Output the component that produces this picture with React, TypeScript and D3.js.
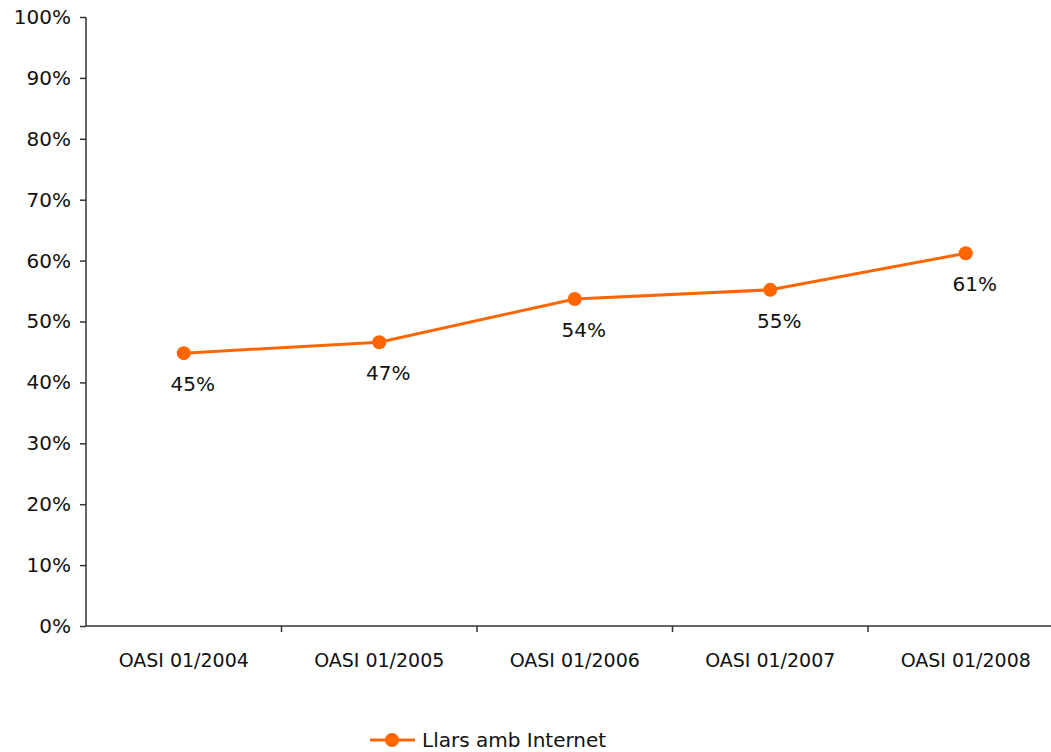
import React, { useEffect, useRef } from 'react';
import * as d3 from 'd3';

const categories = ['OASI 01/2004', 'OASI 01/2005', 'OASI 01/2006', 'OASI 01/2007', 'OASI 01/2008'];
const values = [44.8, 46.6, 53.7, 55.2, 61.2];
const valueLabels = ['45%', '47%', '54%', '55%', '61%'];
const yTicks = [0, 10, 20, 30, 40, 50, 60, 70, 80, 90, 100];
const seriesName = 'Llars amb Internet';

const App = () => {
  const chartRef = useRef(null);

  useEffect(() => {
    if (!chartRef.current) return;
    d3.select(chartRef.current).selectAll('*').remove();

    const width = 1051;
    const height = 752;
    const left = 86;
    const top = 17;
    const bottom = 626;
    const plotWidth = 977.5;
    const color = '#FF6600';
    const font = 'Tahoma, "DejaVu Sans", Verdana, sans-serif';

    const svg = d3.select(chartRef.current)
      .append('svg')
      .attr('width', width)
      .attr('height', height)
      .style('display', 'block')
      .style('background-color', 'white');

    const x = d3.scaleBand().domain(categories).range([left, left + plotWidth]);
    const y = d3.scaleLinear().domain([0, 100]).range([bottom, top]);

    // y axis
    const yAxis = svg.append('g')
      .attr('transform', `translate(${left},0)`)
      .call(d3.axisLeft(y).tickValues(yTicks).tickSize(6).tickFormat(d => `${d}%`));
    yAxis.select('.domain').attr('stroke', '#333').attr('stroke-width', 1.5).attr('d', `M0,${top}V${bottom}`);
    yAxis.selectAll('.tick line').attr('stroke', '#333').attr('stroke-width', 1.5);
    yAxis.selectAll('.tick text')
      .attr('x', -15)
      .style('font-family', font)
      .style('font-size', '20px')
      .style('fill', '#111');

    // x axis
    const xAxis = svg.append('g')
      .attr('transform', `translate(0,${bottom})`)
      .call(d3.axisBottom(x).tickSize(0).tickPadding(0));
    xAxis.select('.domain').attr('stroke', '#333').attr('stroke-width', 1.5).attr('d', `M${left},0H${left + plotWidth}`);
    xAxis.selectAll('.tick text')
      .attr('y', 41)
      .attr('dy', 0)
      .style('font-family', font)
      .style('font-size', '19px')
      .style('fill', '#111');
    // tick marks at band boundaries
    xAxis.selectAll('.boundary')
      .data(categories.slice(1))
      .enter()
      .append('line')
      .attr('x1', d => x(d))
      .attr('x2', d => x(d))
      .attr('y1', 0)
      .attr('y2', 6)
      .attr('stroke', '#333')
      .attr('stroke-width', 1.5);

    const cx = (i: number) => (x(categories[i]) as number) + x.bandwidth() / 2;

    const line = d3.line<number>()
      .x((d, i) => cx(i))
      .y(d => y(d));

    svg.append('path')
      .datum(values)
      .attr('d', line)
      .attr('fill', 'none')
      .attr('stroke', color)
      .attr('stroke-width', 3);

    svg.selectAll('.dot')
      .data(values)
      .enter()
      .append('circle')
      .attr('cx', (d, i) => cx(i))
      .attr('cy', d => y(d))
      .attr('r', 7)
      .attr('fill', color);

    svg.selectAll('.val')
      .data(values)
      .enter()
      .append('text')
      .attr('x', (d, i) => cx(i) + 9)
      .attr('y', d => y(d) + 38)
      .attr('text-anchor', 'middle')
      .style('font-family', font)
      .style('font-size', '20px')
      .style('fill', '#111')
      .text((d, i) => valueLabels[i]);

    // legend
    const legend = svg.append('g').attr('transform', 'translate(370, 740)');
    legend.append('line')
      .attr('x1', 0).attr('x2', 45).attr('y1', 0).attr('y2', 0)
      .attr('stroke', color).attr('stroke-width', 3);
    legend.append('circle').attr('cx', 22).attr('cy', 0).attr('r', 7).attr('fill', color);
    legend.append('text')
      .attr('x', 52)
      .attr('y', 7)
      .style('font-family', font)
      .style('font-size', '20px')
      .style('fill', '#111')
      .text(seriesName);
  }, []);

  return <div ref={chartRef} style={{ position: 'absolute', left: 0, top: 0, width: 1051, height: 752 }} />;
};

export default App;
